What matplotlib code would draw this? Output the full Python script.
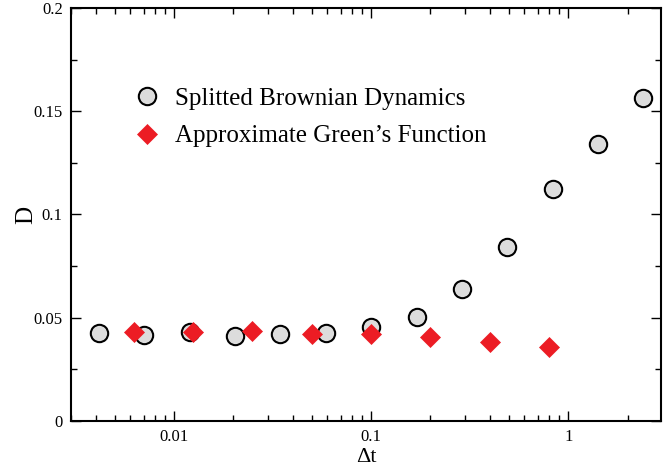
import matplotlib
matplotlib.use("Agg")
import matplotlib.pyplot as plt
from matplotlib.ticker import FixedLocator, FixedFormatter, LogLocator, NullFormatter, MultipleLocator

plt.rcParams['font.family'] = ['Liberation Serif', 'DejaVu Serif']
plt.rcParams['mathtext.fontset'] = 'stix'

# Data
dt_sbd = [0.00414, 0.00704, 0.0120, 0.0204, 0.0346, 0.0588, 0.1, 0.17, 0.289, 0.491, 0.835, 1.42, 2.41]
D_sbd = [0.0426, 0.0416, 0.0431, 0.0411, 0.0419, 0.0424, 0.0455, 0.0504, 0.0639, 0.0843, 0.1123, 0.1340, 0.1565]

dt_agf = [0.00625, 0.0125, 0.025, 0.05, 0.1, 0.2, 0.4, 0.8]
D_agf = [0.0431, 0.0431, 0.0434, 0.0421, 0.0421, 0.0407, 0.0383, 0.0358]

label_sbd = "Splitted Brownian Dynamics"
label_agf = "Approximate Green\u2019s Function"

x_ticks = [0.01, 0.1, 1]
x_ticklabels = ["0.01", "0.1", "1"]
y_ticks = [0, 0.05, 0.1, 0.15, 0.2]
y_ticklabels = ["0", "0.05", "0.1", "0.15", "0.2"]

fig = plt.figure(figsize=(6.71, 4.67), dpi=100)
ax = fig.add_axes([0.1058, 0.0985, 0.879, 0.8845])

ax.plot(dt_sbd, D_sbd, linestyle='none', marker='o', markersize=12.5,
        markerfacecolor='#dcdcdc', markeredgecolor='black', markeredgewidth=1.5,
        label=label_sbd)
ax.plot(dt_agf, D_agf, linestyle='none', marker='D', markersize=10.5,
        markerfacecolor='#ec1c24', markeredgecolor='#ec1c24', markeredgewidth=0.5,
        label=label_agf)

ax.set_xscale('log')
ax.set_xlim(0.003, 2.95)
ax.set_ylim(0, 0.2)

ax.xaxis.set_major_locator(FixedLocator(x_ticks))
ax.xaxis.set_major_formatter(FixedFormatter(x_ticklabels))
ax.xaxis.set_minor_locator(LogLocator(base=10, subs=[2, 3, 4, 5, 6, 7, 8, 9], numticks=20))
ax.xaxis.set_minor_formatter(NullFormatter())
ax.yaxis.set_major_locator(FixedLocator(y_ticks))
ax.yaxis.set_major_formatter(FixedFormatter(y_ticklabels))
ax.yaxis.set_minor_locator(MultipleLocator(0.025))

ax.tick_params(which='both', direction='in', top=True, right=True, labelsize=12, width=1.0)
ax.tick_params(which='major', length=7, pad=6)
ax.tick_params(which='minor', length=4.5)
for s in ax.spines.values():
    s.set_linewidth(1.5)

ax.set_xlabel("\u0394t", fontsize=16, labelpad=2)
ax.set_ylabel("D", fontsize=18, labelpad=-3)

ax.legend(frameon=False, loc='upper left', bbox_to_anchor=(0.0907, 0.832),
          fontsize=18, handletextpad=0.62, labelspacing=0.6, borderaxespad=0,
          handlelength=1.0)

fig.savefig("out.png", dpi=100)
